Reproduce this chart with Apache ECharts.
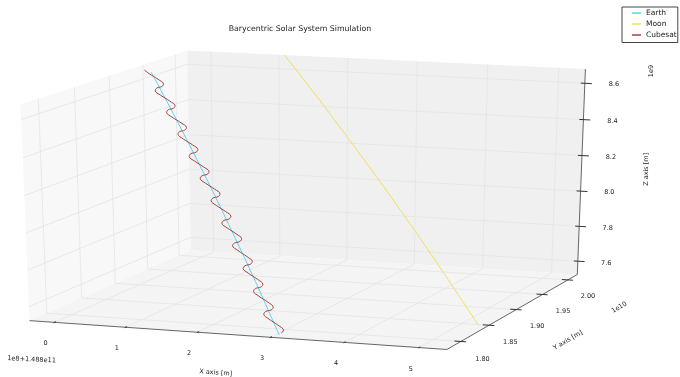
<!DOCTYPE html>
<html>
<head>
<meta charset="utf-8">
<title>Barycentric Solar System Simulation</title>
<script src="https://cdn.jsdelivr.net/npm/echarts@6/dist/echarts.min.js"></script>
<style>
  html, body { margin: 0; padding: 0; background: #fff; }
  #chart { width: 680px; height: 377px; }
</style>
</head>
<body>
<div id="chart"></div>
<script>
// positions in axis units: x = 1e8 m (+1.488e11), y = 1e10 m, z = 1e9 m
var earthX = [0.033, 0.432, 0.825, 1.212, 1.592, 1.967, 2.335, 2.697, 3.053];
var earthY = [1.9225, 1.9051, 1.8878, 1.8704, 1.8530, 1.8356, 1.8183, 1.8009, 1.7835];
var earthZ = [8.678, 8.534, 8.389, 8.245, 8.101, 7.956, 7.812, 7.667, 7.523];

var moonX = [1.069, 1.620, 2.163, 2.696, 3.221, 3.737, 4.245, 4.743, 5.233];
var moonY = [2.020, 1.9986, 1.9771, 1.9557, 1.9342, 1.9128, 1.8913, 1.8699, 1.8484];
var moonZ = [8.678, 8.534, 8.389, 8.245, 8.101, 7.956, 7.812, 7.667, 7.523];

var cubesatX = [-0.063, 0.016, 0.162,
  0.257, 0.252, 0.198, 0.193, 0.288, 0.433,
  0.528, 0.523, 0.467, 0.462, 0.557, 0.701,
  0.796, 0.790, 0.734, 0.728, 0.823, 0.967,
  1.061, 1.054, 0.998, 0.992, 1.086, 1.229,
  1.323, 1.316, 1.259, 1.253, 1.346, 1.489,
  1.582, 1.575, 1.518, 1.511, 1.603, 1.746,
  1.839, 1.831, 1.773, 1.766, 1.858, 2.000,
  2.092, 2.084, 2.026, 2.018, 2.110, 2.251,
  2.343, 2.335, 2.276, 2.267, 2.359, 2.500,
  2.591, 2.582, 2.523, 2.514, 2.605, 2.746,
  2.836, 2.827, 2.767, 2.758, 2.848, 2.988,
  3.079, 3.069];
var cubesatY = [1.9225, 1.9211, 1.9191,
  1.9171, 1.9152, 1.9132, 1.9112, 1.9093, 1.9073,
  1.9053, 1.9033, 1.9014, 1.8994, 1.8974, 1.8955,
  1.8935, 1.8915, 1.8896, 1.8876, 1.8856, 1.8837,
  1.8817, 1.8797, 1.8777, 1.8758, 1.8738, 1.8718,
  1.8699, 1.8679, 1.8659, 1.8640, 1.8620, 1.8600,
  1.8581, 1.8561, 1.8541, 1.8521, 1.8502, 1.8482,
  1.8462, 1.8443, 1.8423, 1.8403, 1.8384, 1.8364,
  1.8344, 1.8325, 1.8305, 1.8285, 1.8266, 1.8246,
  1.8226, 1.8206, 1.8187, 1.8167, 1.8147, 1.8128,
  1.8108, 1.8088, 1.8069, 1.8049, 1.8029, 1.8010,
  1.7990, 1.7970, 1.7950, 1.7931, 1.7911, 1.7891,
  1.7872, 1.7852];
var cubesatZ = [8.687, 8.6709, 8.6450,
  8.6239, 8.6123, 8.6055, 8.5938, 8.5728, 8.5468,
  8.5257, 8.5141, 8.5073, 8.4957, 8.4746, 8.4486,
  8.4276, 8.4159, 8.4091, 8.3975, 8.3764, 8.3504,
  8.3294, 8.3177, 8.3110, 8.2993, 8.2782, 8.2523,
  8.2312, 8.2195, 8.2128, 8.2011, 8.1800, 8.1541,
  8.1330, 8.1214, 8.1146, 8.1029, 8.0819, 8.0559,
  8.0348, 8.0232, 8.0164, 8.0047, 7.9837, 7.9577,
  7.9367, 7.9250, 7.9182, 7.9066, 7.8855, 7.8595,
  7.8385, 7.8268, 7.8200, 7.8084, 7.7873, 7.7614,
  7.7403, 7.7286, 7.7219, 7.7102, 7.6891, 7.6632,
  7.6421, 7.6305, 7.6237, 7.6120, 7.5910, 7.5650,
  7.5439, 7.5323];

var xTicks = [0, 1, 2, 3, 4, 5];
var yTicks = [1.80, 1.85, 1.90, 1.95, 2.00];
var zTicks = [7.6, 7.8, 8.0, 8.2, 8.4, 8.6];

var xLim = [-0.35, 5.37];
var yLim = [1.776, 2.019];
var zLim = [7.523, 8.678];

// 3d view, same camera model as matplotlib's Axes3D
var ELEV = 18, AZIM = -70, DIST = 10;
var SCREEN = { cx: 311.1, cy: 193.2, kx: 4336, ky: 2215 };

var view = (function () {
  var e = ELEV * Math.PI / 180, a = AZIM * Math.PI / 180;
  var n = [Math.cos(a) * Math.cos(e), Math.sin(a) * Math.cos(e), Math.sin(e)];
  var u = [-Math.sin(a), Math.cos(a), 0];
  var v = [-Math.sin(e) * Math.cos(a), -Math.sin(e) * Math.sin(a), Math.cos(e)];
  var eye = [0.5 + DIST * n[0], 0.5 + DIST * n[1], 0.5 + DIST * n[2]];
  return { n: n, u: u, v: v, eye: eye };
})();

function dot(p, q) { return p[0] * q[0] + p[1] * q[1] + p[2] * q[2]; }

// box coords (0..1 on every axis) -> pixel values of the flat grid
function projBox(bx, by, bz) {
  var q = [bx - view.eye[0], by - view.eye[1], bz - view.eye[2]];
  var d = -dot(view.n, q);
  return [SCREEN.cx + SCREEN.kx * dot(view.u, q) / d,
          SCREEN.cy - SCREEN.ky * dot(view.v, q) / d];
}
function nx(v) { return (v - xLim[0]) / (xLim[1] - xLim[0]); }
function ny(v) { return (v - yLim[0]) / (yLim[1] - yLim[0]); }
function nz(v) { return (v - zLim[0]) / (zLim[1] - zLim[0]); }
function proj(x, y, z) { return projBox(nx(x), ny(y), nz(z)); }

function track(xs, ys, zs) {
  return xs.map(function (x, i) { return proj(x, ys[i], zs[i]); });
}

var FONT = 'DejaVu Sans';
var TXT = '#222';

function renderBox(params, api) {
  var kids = [];
  function P(bx, by, bz) { return api.coord(projBox(bx, by, bz)); }
  function pane(pts, fill) {
    kids.push({ type: 'polygon', shape: { points: pts }, style: { fill: fill }, silent: true });
  }
  function seg(a, b, color, w) {
    kids.push({ type: 'line', shape: { x1: a[0], y1: a[1], x2: b[0], y2: b[1] },
      style: { stroke: color, lineWidth: w }, silent: true });
  }
  function label(p, text, size, rot, dx, dy) {
    kids.push({ type: 'text', x: p[0] + (dx || 0), y: p[1] + (dy || 0), rotation: rot || 0,
      style: { text: text, fill: TXT, fontSize: size, fontFamily: FONT,
        align: 'center', verticalAlign: 'middle' }, silent: true });
  }

  // panes
  pane([P(0, 0, 0), P(0, 1, 0), P(0, 1, 1), P(0, 0, 1)], '#f8f8f8');
  pane([P(0, 1, 0), P(1, 1, 0), P(1, 1, 1), P(0, 1, 1)], '#f0f0f0');
  pane([P(0, 0, 0), P(1, 0, 0), P(1, 1, 0), P(0, 1, 0)], '#f4f4f4');

  // grid lines on the panes
  var g = '#e4e4e4', gw = 0.8;
  xTicks.forEach(function (t) {
    var a = nx(t);
    seg(P(a, 1, 0), P(a, 1, 1), g, gw);
    seg(P(a, 0, 0), P(a, 1, 0), g, gw);
  });
  yTicks.forEach(function (t) {
    var b = ny(t);
    seg(P(0, b, 0), P(0, b, 1), g, gw);
    seg(P(0, b, 0), P(1, b, 0), g, gw);
  });
  zTicks.forEach(function (t) {
    var c = nz(t);
    seg(P(0, 0, c), P(0, 1, c), g, gw);
    seg(P(0, 1, c), P(1, 1, c), g, gw);
  });

  // axis lines
  var ax = '#666';
  seg(P(0, 0, 0), P(1, 0, 0), ax, 1);
  seg(P(1, 0, 0), P(1, 1, 0), ax, 1);
  seg(P(1, 1, 0), P(1, 1, 1), ax, 1);

  // ticks and tick labels
  var tk = '#333';
  xTicks.forEach(function (t) {
    var a = nx(t);
    seg(P(a, -0.005, 0), P(a, 0.009, 0), tk, 1);
    label(P(a, -0.054, -0.0785), String(t), 6.5);
  });
  yTicks.forEach(function (t) {
    var b = ny(t);
    seg(P(0.985, b, 0), P(1.0125, b, 0), tk, 1);
    label(P(1.0515, b, -0.075), t.toFixed(2), 6.5);
  });
  zTicks.forEach(function (t) {
    var c = nz(t);
    seg(P(0.99, 1, c), P(1.017, 1, c), tk, 1);
    label(P(1.071, 1, c), t.toFixed(1), 6.5);
  });

  // axis names and offset texts
  label(P(0.5, 0, 0), 'X axis [m]', 6.5, -0.07, -19, 38);
  label(P(0, 0, 0), '1e8+1.488e11', 6.5, -0.05, 2, 39);
  label(P(1, 0.5, 0), 'Y axis [m]', 6.5, 0.53, 53, 30);
  label(P(1, 1, 0), '1e10', 6.5, 0.53, 42, 33);
  label(P(1, 1, 0.5), 'Z axis [m]', 6.5, Math.PI / 2, 65, -4);
  label(P(1, 1, 1), '1e9', 6.5, Math.PI / 2, 66, 2);

  return { type: 'group', children: kids };
}

var chart = echarts.init(document.getElementById('chart'), null, { renderer: 'canvas' });
var option = {
  animation: false,
  backgroundColor: '#fff',
  title: {
    text: 'Barycentric Solar System Simulation',
    left: 300,
    top: 24.5,
    padding: 0,
    textAlign: 'center',
    textStyle: { fontSize: 7.8, fontWeight: 'normal', color: TXT, fontFamily: FONT }
  },
  legend: {
    orient: 'vertical',
    left: 622,
    top: 7,
    padding: [1.5, 1, 3, 10],
    itemWidth: 9,
    itemHeight: 1.5,
    itemGap: 2,
    icon: 'rect',
    borderColor: '#444',
    borderWidth: 1,
    borderRadius: 0,
    backgroundColor: '#fff',
    textStyle: { fontSize: 7.5, color: TXT, fontFamily: FONT, lineHeight: 9 },
    data: ['Earth', 'Moon', 'Cubesat']
  },
  grid: { left: 0, right: 0, top: 0, bottom: 0 },
  xAxis: { type: 'value', min: 0, max: 680, show: false },
  yAxis: { type: 'value', min: 0, max: 377, inverse: true, show: false },
  series: [
    {
      type: 'custom',
      coordinateSystem: 'cartesian2d',
      renderItem: renderBox,
      data: [[0, 0]],
      clip: false,
      silent: true,
      z: 1
    },
    {
      name: 'Earth', type: 'line', data: track(earthX, earthY, earthZ),
      showSymbol: false, smooth: true, color: '#55d6f6',
      lineStyle: { width: 1, color: '#55d6f6' }, z: 2
    },
    {
      name: 'Moon', type: 'line', data: track(moonX, moonY, moonZ),
      showSymbol: false, smooth: true, color: '#f3e05a',
      lineStyle: { width: 1, color: '#f3e05a' }, z: 2
    },
    {
      name: 'Cubesat', type: 'line', data: track(cubesatX, cubesatY, cubesatZ),
      showSymbol: false, smooth: 0.4, color: '#a84040',
      lineStyle: { width: 1, color: '#a84040' }, z: 3
    }
  ]
};
chart.setOption(option);
</script>
</body>
</html>
